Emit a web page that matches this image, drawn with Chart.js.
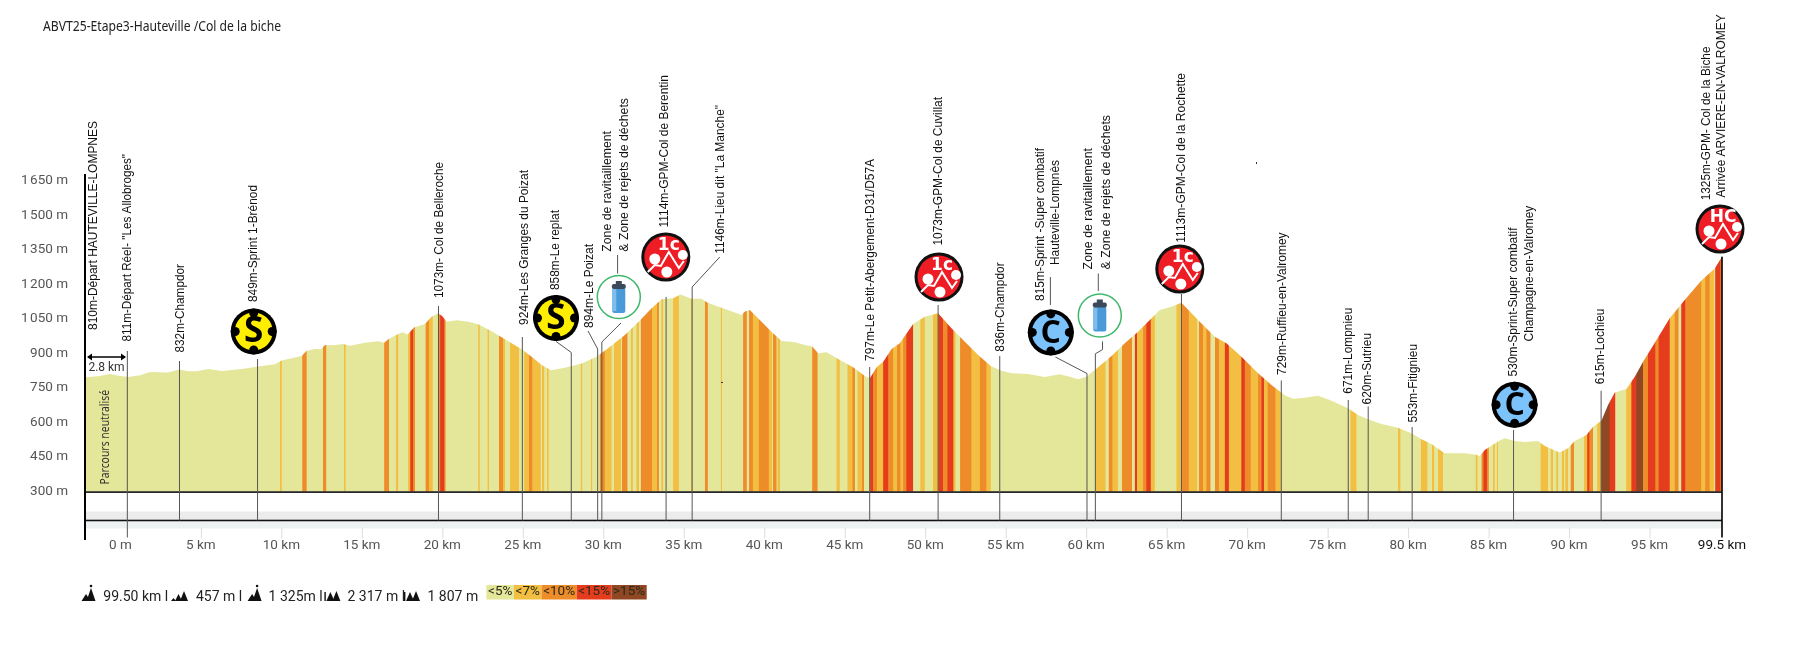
<!DOCTYPE html>
<html>
<head>
<meta charset="utf-8">
<title>ABVT25 Etape 3</title>
<script src="https://cdn.jsdelivr.net/npm/chart.js@4/dist/chart.umd.min.js"></script>
<style>
  html, body { margin: 0; background: #fff; }
  canvas { display: block; }
</style>
</head>
<body>
<canvas id="profile" width="1800" height="645"></canvas>
<script>
// Profile: distance in km, altitude in m
const profileKm = [-2.2, -1.37, -0.65, -0.13, 0.49, 1.22, 1.84, 2.97, 3.64, 4.22, 4.74, 5.46, 6.29, 7.53, 8.57, 9.6, 10.02, 11.26, 11.57, 12.09, 12.46, 12.71,
  13.22, 13.85, 14.26, 15.19, 16.02, 16.39, 16.64, 17.1, 17.51, 17.84, 18.26, 18.92, 19.33, 19.75, 19.99, 20.27, 20.89, 21.61, 22.23, 23.06, 23.89, 24.93, 25.55, 26.17, 26.75, 27.61,
  28.65, 29.58, 30.3, 31.34, 32.27, 33.0, 33.62, 34.34, 34.8, 35.48, 36.1, 36.48, 37.35, 38.59, 38.8, 39.1, 39.83, 40.45, 41.08, 41.9, 42.52,
  42.98, 43.35, 43.87, 44.59, 45.52, 46.25, 46.56, 46.98, 47.39, 47.91, 48.42, 49.25, 49.97, 50.8, 51.63, 52.46, 53.29, 54.11, 54.74, 55.36, 56.39, 57.43,
  58.36, 58.98, 59.5, 60.02, 60.74, 61.57, 62.4, 63.22, 63.95, 64.57, 65.3, 65.92, 66.95, 67.99, 68.71, 69.65, 70.68, 71.51, 72.34,
  72.85, 73.47, 74.4, 75.13, 76.27, 76.89, 77.51, 78.34, 79.37, 80.2, 80.83, 81.45, 82.27, 83.52, 84.24, 84.45, 84.76, 85.58, 86.0, 86.62, 87.24,
  88.07, 88.49, 89.42, 89.93, 90.35, 91.08, 91.49, 92.01, 92.42, 92.84, 93.56, 94.08, 94.6, 95.43, 96.25, 97.18, 98.22, 99.05, 99.5];
const profileAlt = [797, 801, 811, 803, 798, 805, 820, 817, 830, 823, 823, 833, 824, 833, 843, 853, 869, 889, 912, 920, 918, 937,
  936, 941, 934, 947, 953, 947, 962, 979, 992, 983, 1014, 1028, 1060, 1075, 1063, 1038, 1044, 1038, 1027, 997, 962, 918, 886, 850, 827, 838,
  857, 886, 923, 980, 1043, 1097, 1136, 1140, 1156, 1138, 1138, 1121, 1099, 1067, 1083, 1089, 1038, 995, 954, 949, 937,
  930, 901, 905, 876, 840, 802, 792, 840, 864, 920, 944, 1028, 1060, 1075, 1010, 951, 893, 843, 825, 814, 811, 798,
  810, 799, 788, 799, 840, 889, 944, 995, 1046, 1089, 1103, 1121, 1046, 973, 944, 886, 814, 763, 718,
  703, 706, 716, 698, 662, 633, 614, 593, 577, 553, 527, 507, 466, 466, 460, 453, 480, 517, 531, 520, 515,
  520, 498, 470, 488, 520, 546, 582, 608, 676, 730, 746, 799, 864, 959, 1053, 1133, 1217, 1270, 1321];

// Gradient stripes: start km, end km, class (1 <7%, 2 <10%, 3 <15%, 4 >15%), the rest is <5%
const bandStart = [9.91, 11.3, 12.58, 13.89, 16.39, 17.12, 17.88, 18.01, 18.17, 18.96, 19.17, 19.75, 19.87, 20.12, 22.23, 22.81, 23.52, 23.77, 24.2, 25.09, 25.38, 25.59, 26.2, 26.5,
  28.6, 29.23, 29.78, 30.09, 30.67, 31.17, 31.71, 32.06, 32.33, 33.03, 33.33, 33.61, 34.34, 34.5, 35.44, 36.31, 37.3, 38.69, 39.06, 39.29, 39.66, 40.28, 40.55, 40.82,
  42.98, 44.49, 45.17, 45.48, 45.79, 46.08, 46.58, 46.76, 47.01, 47.39, 47.7, 48.01, 48.25, 48.46, 48.63, 48.83, 49.7, 50.49, 50.84, 51.11, 51.38, 51.75, 52.17, 52.87, 53.39, 53.8,
  60.58, 61.4, 61.63, 62.23, 63.02, 63.16, 63.54, 63.74, 64.01, 65.61, 65.96, 66.37, 67.0, 67.26, 67.47, 68.0, 68.24, 68.61, 68.86, 69.64, 69.85, 70.22, 70.68, 70.89, 71.05, 71.3, 71.76,
  76.42, 79.38, 80.79, 81.49, 81.86, 84.2, 84.56, 84.68, 84.89, 85.28, 85.51,
  88.23, 88.86, 89.21, 89.56, 89.77, 90.1, 90.93, 91.13, 91.26, 91.75, 92.0, 92.52, 93.55, 93.87, 94.18, 94.59, 94.9, 95.36, 95.56, 96.25, 96.56, 96.97, 97.22, 98.21, 98.46, 98.73, 99.08, 99.4];
const bandEnd = [10.02, 11.57, 12.79, 13.99, 16.68, 17.26, 18.01, 18.17, 18.3, 19.17, 19.4, 19.87, 20.12, 20.2, 22.32, 22.89, 23.77, 23.89, 24.76, 25.38, 25.59, 26.11, 26.33, 26.6,
  28.69, 29.31, 30.09, 30.51, 31.09, 31.5, 31.83, 32.21, 33.03, 33.33, 33.45, 33.72, 34.46, 34.69, 35.52, 36.49, 37.38, 38.91, 39.29, 39.66, 40.28, 40.49, 40.76, 40.98,
  43.31, 44.69, 45.48, 45.63, 46.08, 46.2, 46.76, 47.01, 47.39, 47.7, 48.01, 48.25, 48.46, 48.63, 48.83, 49.25, 49.97, 50.8, 51.11, 51.38, 51.75, 51.88, 52.87, 53.39, 53.8, 54.07,
  61.2, 61.63, 61.98, 62.85, 63.16, 63.54, 63.74, 64.01, 64.26, 65.88, 66.37, 66.9, 67.26, 67.47, 67.72, 68.24, 68.61, 68.86, 69.64, 69.85, 70.22, 70.68, 70.89, 71.05, 71.26, 71.76, 72.09,
  76.79, 79.52, 81.2, 81.62, 82.17, 84.31, 84.68, 84.89, 85.01, 85.38, 85.59,
  88.69, 89.0, 89.31, 89.68, 89.93, 90.3, 91.13, 91.26, 91.48, 92.0, 92.52, 92.87, 93.87, 94.18, 94.59, 94.9, 95.36, 95.56, 96.25, 96.56, 96.8, 97.22, 98.21, 98.46, 98.73, 99.0, 99.4, 99.5];
const bandClass = [1, 2, 2, 1, 2, 1, 1, 3, 2, 2, 1, 2, 3, 2, 1, 1, 2, 1, 1, 1, 2, 1, 1, 1,
  1, 1, 2, 1, 1, 2, 1, 1, 2, 1, 2, 1, 1, 1, 1, 2, 1, 2, 2, 1, 2, 1, 2, 1,
  2, 1, 1, 2, 1, 2, 3, 2, 1, 3, 2, 1, 2, 1, 2, 3, 1, 1, 3, 2, 3, 1, 2, 1, 2, 1,
  1, 2, 1, 2, 3, 1, 2, 3, 1, 1, 2, 1, 2, 1, 2, 2, 1, 3, 1, 3, 2, 1, 2, 3, 1, 2, 1,
  1, 1, 1, 1, 1, 1, 2, 3, 2, 1, 1,
  1, 1, 1, 1, 1, 2, 1, 3, 2, 1, 4, 3, 1, 3, 4, 2, 3, 2, 3, 1, 2, 3, 2, 1, 2, 1, 3, 2];

const altTicks = [300, 450, 600, 750, 900, 1050, 1200, 1350, 1500, 1650];
const kmTicks = [0, 5, 10, 15, 20, 25, 30, 35, 40, 45, 50, 55, 60, 65, 70, 75, 80, 85, 90, 95, 99.5];

// Points along the route
const markerKm = [0.43, 3.67, 8.52, 19.76, 24.97, 28.01, 29.65, 29.91, 33.9, 35.52, 46.55, 50.8, 54.63, 60.05, 60.57, 65.92, 72.12, 76.28, 77.52, 80.25, 86.55, 91.99];
const markerText = [
  ['811m-Départ Réel- "Les Allobroges"'], ['832m-Champdor'], ['849m-Sprint 1-Brénod'], ['1073m- Col de Belleroche'],
  ['924m-Les Granges du Poizat'], ['858m-Le replat'], ['894m-Le Poizat'], ['Zone de ravitaillement', '& Zone de rejets de déchets'],
  ['1114m-GPM-Col de Berentin'], ['1146m-Lieu dit "La Manche"'], ['797m-Le Petit-Abergement-D31/D57A'], ['1073m-GPM-Col de Cuvillat'],
  ['836m-Champdor'], ['815m-Sprint -Super combatif', 'Hauteville-Lompnès'], ['Zone de ravitaillement', '& Zone de rejets de déchets'],
  ['1113m-GPM-Col de la Rochette'], ['729m-Ruffieu-en-Valromey'], ['671m-Lompnieu'], ['620m-Sutrieu'], ['553m-Fitignieu'],
  ['530m-Sprint-Super combatif', 'Champagne-en-Valromey'], ['615m-Lochieu']
];
const startText = '810m-Départ HAUTEVILLE-LOMPNES';
const finishText = ['1325m-GPM- Col de la Biche', 'Arrivée ARVIERE-EN-VALROMEY'];
const summaryText = ['99.50 km l', '457 m l', '1 325m l', '2 317 m l', '1 807 m'];
const legendText = ['<5%', '<7%', '<10%', '<15%', '>15%'];

// Where the annotations sit on the page (pixels): x, bottom and top of each rotated line
const gradeColors = ['#e4e69a', '#f2bf42', '#ef8c2a', '#e53c1e', '#8f4724'];
const labelSpots = [
  [[127, 341.5, 154]], [[180, 352.5, 264]], [[253.7, 302, 185]], [[439, 298, 162]], [[524.7, 325, 170]], [[555, 290, 210]], [[589.7, 328, 244]],
  [[607.6, 251.7, 131], [624.5, 251.7, 98]], [[664.3, 227.5, 75]], [[720, 253.8, 105]], [[870, 361, 159]], [[938.3, 245.6, 97]], [[1000, 351.7, 262.4]],
  [[1040, 301, 148], [1055.4, 265, 160]], [[1088.3, 269.4, 148], [1106, 269.4, 115]], [[1181.7, 242.7, 73]], [[1282.3, 375, 232.4]], [[1348.5, 393.7, 307.7]],
  [[1367.6, 404.4, 333]], [[1413, 422.5, 344]], [[1513, 376.4, 227.5], [1529, 341.4, 205.7]], [[1600.7, 384.2, 308.5]]
];
const stemTops = [351, 361, 359, 306, 337, 352.5, 349, 342, 297, 287, 367, 305, 356, 373.5, 353.8, 294, 380.5, 400, 406.4, 427, 430, 390.8];
const elbows = {
  5: [[556, 341.4]], 6: [[588, 331]], 7: [[621, 323]], 9: [[719.8, 257]],
  13: [[1055.4, 357]], 14: [[1102.5, 341.4], [1102.5, 349.6]]
};
const shortLeaders = [[617.6, 255, 273.5], [1050.4, 277, 305], [1098.3, 273.5, 291]];
const icons = [
  ['sprint', 253.7, 331.5, '#ffee00', 'S'], ['sprint', 556, 318, '#ffee00', 'S'],
  ['bottle', 618.8, 297], ['gpm', 665.8, 257, '1c'], ['gpm', 939, 277, '1c'],
  ['sprint', 1050.8, 332.4, '#7cc3fb', 'C'], ['bottle', 1099.8, 315.5], ['gpm', 1179.8, 269, '1c'],
  ['sprint', 1514.6, 404.8, '#7cc3fb', 'C'], ['gpm', 1720, 229, 'HC']
];
const AXIS_FONT = 'Roboto, "Noto Sans", sans-serif';
const LABEL_FONT = '"Liberation Sans", Arial, sans-serif';

function gradeFill(context) {
  const chart = context.chart;
  const area = chart.chartArea;
  if (!area) return gradeColors[0];
  const x = chart.scales.x;
  const g = chart.ctx.createLinearGradient(area.left, 0, area.right, 0);
  const ramp = 0.025;
  const put = (km, color) => {
    const p = (x.getPixelForValue(km) - area.left) / (area.right - area.left);
    g.addColorStop(Math.min(1, Math.max(0, p)), color);
  };
  let last = x.min;
  bandStart.forEach((start, i) => {
    if (start - last > 2 * ramp) {
      put(last + ramp, gradeColors[0]);
      put(start - ramp, gradeColors[0]);
    }
    const color = gradeColors[bandClass[i]];
    put(start + ramp, color);
    put(bandEnd[i] - ramp, color);
    last = bandEnd[i];
  });
  put(x.max, gradeColors[bandClass[bandClass.length - 1]]);
  return g;
}

// Rotated text squeezed to the length it has in the picture
function upText(ctx, text, x, bottom, top) {
  ctx.save();
  ctx.translate(x, bottom);
  ctx.rotate(-Math.PI / 2);
  ctx.scale((bottom - top) / ctx.measureText(text).width, 1);
  ctx.textAlign = 'left';
  ctx.textBaseline = 'middle';
  ctx.fillText(text, 0, 0);
  ctx.restore();
}

function notchedBadge(ctx, cx, cy, fill, letter) {
  ctx.fillStyle = '#000';
  ctx.beginPath(); ctx.arc(cx, cy, 23, 0, Math.PI * 2); ctx.fill();
  ctx.fillStyle = fill;
  ctx.beginPath(); ctx.arc(cx, cy, 19, 0, Math.PI * 2); ctx.fill();
  ctx.fillStyle = '#000';
  [[0, -18.5], [18.5, 0], [0, 18.5], [-18.5, 0]].forEach(([dx, dy]) => {
    ctx.beginPath(); ctx.arc(cx + dx, cy + dy, 4.5, 0, Math.PI * 2); ctx.fill();
  });
  ctx.font = 'bold ' + (letter === 'S' ? 35 : 32) + 'px "Open Sans", sans-serif';
  ctx.textAlign = 'center';
  ctx.textBaseline = 'middle';
  ctx.fillText(letter, cx, cy + 1);
}

function gpmBadge(ctx, cx, cy, cat) {
  ctx.fillStyle = '#111';
  ctx.beginPath(); ctx.arc(cx, cy, 24.5, 0, Math.PI * 2); ctx.fill();
  ctx.fillStyle = '#ee1c25';
  ctx.beginPath(); ctx.arc(cx, cy, 21.5, 0, Math.PI * 2); ctx.fill();
  ctx.fillStyle = '#fff';
  ctx.font = 'bold 17px "DejaVu Sans", sans-serif';
  ctx.textAlign = 'center';
  ctx.textBaseline = 'middle';
  ctx.fillText(cat, cx + 3, cy - 11);
  [[-11, 2, 5.5], [17, -2, 5], [1, 15, 5.5]].forEach(([dx, dy, r]) => {
    ctx.beginPath(); ctx.arc(cx + dx, cy + dy, r, 0, Math.PI * 2); ctx.fill();
  });
  ctx.strokeStyle = '#fff';
  ctx.lineWidth = 2;
  ctx.beginPath();
  ctx.moveTo(cx - 18, cy + 15); ctx.lineTo(cx - 11, cy + 8); ctx.lineTo(cx - 5, cy + 9);
  ctx.lineTo(cx + 3, cy - 5); ctx.lineTo(cx + 13, cy + 11); ctx.lineTo(cx + 18, cy + 4);
  ctx.stroke();
}

function bottleBadge(ctx, cx, cy) {
  ctx.fillStyle = '#fff';
  ctx.strokeStyle = '#3db76a';
  ctx.lineWidth = 1.5;
  ctx.beginPath(); ctx.arc(cx, cy, 21.5, 0, Math.PI * 2); ctx.fill(); ctx.stroke();
  ctx.fillStyle = '#4a9ad9';
  ctx.beginPath(); ctx.roundRect(cx - 6.5, cy - 9, 13, 25, 2); ctx.fill();
  ctx.fillStyle = '#7fbdee';
  ctx.fillRect(cx - 6.5, cy - 8, 4, 22);
  ctx.fillStyle = '#3a4a5a';
  ctx.beginPath(); ctx.roundRect(cx - 7, cy - 13, 14, 5, 2); ctx.fill();
  ctx.fillRect(cx - 3, cy - 16, 6, 4);
}

function peakGlyph(ctx, x, y, kind) {
  ctx.fillStyle = '#111';
  const hill = (a, w, h) => {
    ctx.beginPath(); ctx.moveTo(a, y + 5); ctx.lineTo(a + w / 2, y + 5 - h); ctx.lineTo(a + w, y + 5); ctx.fill();
  };
  if (kind === 1) { // distance / high point
    hill(x, 9, 7); hill(x + 5, 9, 13);
    ctx.beginPath(); ctx.arc(x + 9.5, y - 10, 1.3, 0, Math.PI * 2); ctx.fill();
  } else if (kind === 2) { // low point
    hill(x, 5, 3); hill(x + 4, 7, 7); hill(x + 9, 8, 10);
  } else { // climbing / descending
    hill(x + 3, 8, 9); hill(x + 9, 8, 10);
    ctx.fillRect(x + 1, y - 4, 1.4, 9);
  }
}

const profileDecor = {
  id: 'profileDecor',
  afterDatasetsDraw(chart) {
    const { ctx, chartArea: area, scales: { x, y } } = chart;
    const left = area.left, right = x.getPixelForValue(99.5);
    const base = y.getPixelForValue(300);
    ctx.save();

    // bands and ticks below the profile
    ctx.fillStyle = '#ececec';
    ctx.fillRect(left, base + 20, right - left, 8.5);
    ctx.fillStyle = '#eef1f2';
    ctx.fillRect(left, base + 30, right - left, 7);
    ctx.fillStyle = '#d9dee1';
    kmTicks.slice(1, -1).forEach(km => ctx.fillRect(x.getPixelForValue(km), base + 36, 1, 11));
    ctx.fillStyle = '#111';
    ctx.fillRect(left, base - 0.2, right - left, 1.6);
    ctx.fillRect(left, base + 28.2, right - left, 1.6);

    // stems, with the bent leaders where they have them
    ctx.strokeStyle = '#555';
    ctx.lineWidth = 1;
    markerKm.forEach((km, i) => {
      const px = x.getPixelForValue(km);
      ctx.beginPath();
      (elbows[i] || []).forEach((p, k) => k ? ctx.lineTo(p[0], p[1]) : ctx.moveTo(p[0], p[1]));
      if (elbows[i]) ctx.lineTo(px, stemTops[i]); else ctx.moveTo(px, stemTops[i]);
      ctx.lineTo(px, base + (i === 0 ? 46 : 29));
      ctx.stroke();
    });
    shortLeaders.forEach(([px, top, bottom]) => {
      ctx.beginPath(); ctx.moveTo(px, top); ctx.lineTo(px, bottom); ctx.stroke();
    });

    // left axis and finish line
    ctx.fillStyle = '#000';
    ctx.fillRect(left - 1, area.top, 2, area.bottom - area.top);
    ctx.fillRect(right - 0.8, y.getPixelForValue(1321), 1.6, base + 46 - y.getPixelForValue(1321));

    // rotated labels
    ctx.fillStyle = '#111';
    ctx.font = '13px ' + LABEL_FONT;
    markerText.forEach((lines, i) => lines.forEach((t, k) => {
      const spot = labelSpots[i][k];
      upText(ctx, t, spot[0], spot[1], spot[2]);
    }));
    upText(ctx, startText, 93, 330, 121);
    upText(ctx, finishText[0], 1706, 200.3, 46.5);
    upText(ctx, finishText[1], 1721, 197.5, 14.4);

    icons.forEach(icon => {
      if (icon[0] === 'sprint') notchedBadge(ctx, icon[1], icon[2], icon[3], icon[4]);
      else if (icon[0] === 'gpm') gpmBadge(ctx, icon[1], icon[2], icon[3]);
      else bottleBadge(ctx, icon[1], icon[2]);
    });

    // neutralised start
    ctx.strokeStyle = '#000';
    ctx.lineWidth = 1.5;
    ctx.beginPath(); ctx.moveTo(88, 357); ctx.lineTo(125, 357); ctx.stroke();
    ctx.fillStyle = '#000';
    [[87, 92], [126, 121]].forEach(([tip, back]) => {
      ctx.beginPath(); ctx.moveTo(tip, 357); ctx.lineTo(back, 353.5); ctx.lineTo(back, 360.5); ctx.fill();
    });
    ctx.fillStyle = '#333';
    ctx.font = '12px ' + AXIS_FONT;
    ctx.textAlign = 'center';
    ctx.textBaseline = 'middle';
    ctx.fillText('2.8 km', 106.5, 367.5);
    ctx.font = '12px "Noto Sans", sans-serif';
    upText(ctx, 'Parcours neutralisé', 106, 484.6, 390);

    // title
    ctx.fillStyle = '#222';
    ctx.font = '13.5px "Noto Sans", sans-serif';
    ctx.textAlign = 'left';
    ctx.textBaseline = 'middle';
    const title = 'ABVT25-Etape3-Hauteville /Col de la biche';
    ctx.save();
    ctx.translate(43, 26.7);
    ctx.scale(238 / ctx.measureText(title).width, 1);
    ctx.fillText(title, 0, 0);
    ctx.restore();

    // summary line
    ctx.fillStyle = '#222';
    ctx.font = '14px ' + AXIS_FONT;
    [103.3, 196, 268.6, 347.5, 427.5].forEach((px, i) => ctx.fillText(summaryText[i], px, 597.5));
    [[81.5, 1], [171, 2], [247.6, 1], [323.4, 3], [403, 3]].forEach(([px, kind]) => peakGlyph(ctx, px, 596, kind));

    // gradient legend
    const edges = [486.4, 514, 541.5, 576.7, 611.5, 646.7];
    ctx.font = '13.5px ' + AXIS_FONT;
    ctx.textAlign = 'center';
    legendText.forEach((t, i) => {
      ctx.fillStyle = gradeColors[i];
      ctx.fillRect(edges[i], 585, edges[i + 1] - edges[i], 14.5);
      ctx.fillStyle = '#2a2a1a';
      ctx.fillText(t, (edges[i] + edges[i + 1]) / 2, 592);
    });

    // the two stray specks of the original
    ctx.fillStyle = '#333';
    ctx.fillRect(721, 382, 2, 1);
    ctx.fillRect(1256, 162, 1, 2);
    ctx.restore();
  }
};

new Chart(document.getElementById('profile'), {
  type: 'line',
  data: {
    labels: profileKm,
    datasets: [{
      data: profileKm.map((km, i) => ({ x: km, y: profileAlt[i] })),
      borderWidth: 0,
      pointRadius: 0,
      tension: 0,
      fill: { value: 300 },
      backgroundColor: gradeFill
    }]
  },
  options: {
    responsive: false,
    animation: false,
    layout: { autoPadding: false, padding: { top: 174, right: 78, left: 0, bottom: 0 } },
    plugins: { legend: { display: false }, tooltip: { enabled: false } },
    scales: {
      x: {
        type: 'linear',
        min: -2.2,
        max: 99.5,
        grid: { display: false, drawTicks: false },
        border: { display: false },
        afterFit(s) { s.height = 105; },
        afterBuildTicks(s) { s.ticks = kmTicks.map(v => ({ value: v })); },
        ticks: {
          autoSkip: false,
          maxRotation: 0,
          padding: -2,
          color: c => c.tick && c.tick.value === 99.5 ? '#111' : '#555',
          font: { family: AXIS_FONT, size: 13.5 },
          callback: v => v === 0 ? '0 m' : v + ' km'
        }
      },
      y: {
        min: 89.1,
        max: 1680.4,
        grid: { display: false, drawTicks: false },
        border: { display: false },
        afterFit(s) { s.width = 85; },
        afterBuildTicks(s) { s.ticks = altTicks.map(v => ({ value: v })); },
        ticks: {
          autoSkip: false,
          padding: 17,
          color: '#555',
          font: { family: AXIS_FONT, size: 13.5 },
          callback: v => (v >= 1000 ? '1\u200A' + String(v).slice(1) : v) + ' m'
        }
      }
    }
  },
  plugins: [profileDecor]
});
</script>
</body>
</html>
